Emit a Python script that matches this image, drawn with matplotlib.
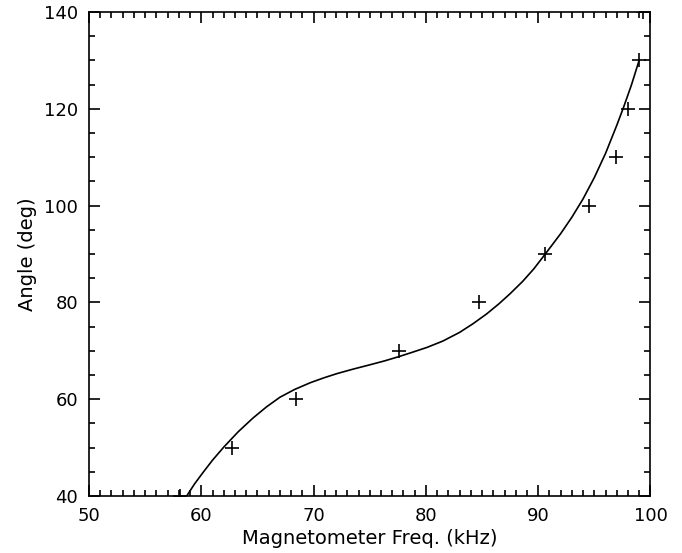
import matplotlib
matplotlib.use('Agg')
import matplotlib.pyplot as plt
from matplotlib.ticker import MultipleLocator

freq = [58.1, 62.7, 68.4, 77.6, 84.7, 90.6, 94.5, 96.9, 98.0, 99.0, 99.3]
angle = [40, 50, 60, 70, 80, 90, 100, 110, 120, 130, 140]

# fitted curve
fit_x = [58.7, 59.4, 60.2, 61.0, 62.0, 63.3, 64.6, 65.8, 67.0, 68.3, 69.7,
         70.9, 72.1, 73.5, 75.0, 76.3, 77.6, 78.8, 80.1, 81.5, 83.0, 84.2,
         85.4, 86.5, 87.5, 88.6, 89.6, 90.5, 91.35, 92.0, 93.0, 94.0, 95.0,
         96.0, 97.0, 97.6, 98.3, 99.0]
fit_y = [40.0, 42.5, 45.0, 47.4, 50.1, 53.3, 56.1, 58.4, 60.4, 62.0, 63.4,
         64.4, 65.3, 66.2, 67.1, 67.9, 68.8, 69.7, 70.7, 72.0, 73.8, 75.6,
         77.6, 79.7, 81.8, 84.3, 86.9, 89.6, 92.2, 94.2, 97.6, 101.4, 105.8,
         110.8, 116.6, 120.3, 124.9, 130.1]

plt.rcParams['font.family'] = 'DejaVu Sans'
fig = plt.figure(figsize=(6.82, 5.53), dpi=100)
ax = fig.add_axes([0.1305, 0.1031, 0.8233, 0.8752])

ax.plot(fit_x, fit_y, color='black', lw=1.2)
ax.plot(freq, angle, linestyle='none', marker='+', color='black', ms=10, mew=1.2)

ax.set_xlim(50, 100)
ax.set_ylim(40, 140)
ax.xaxis.set_major_locator(MultipleLocator(10))
ax.xaxis.set_minor_locator(MultipleLocator(1))
ax.yaxis.set_major_locator(MultipleLocator(20))
ax.yaxis.set_minor_locator(MultipleLocator(5))
ax.tick_params(which='both', direction='in', top=True, right=True, width=1.2,
               labelsize=13, pad=8)
ax.tick_params(which='major', length=8)
ax.tick_params(which='minor', length=4)
for s in ax.spines.values():
    s.set_linewidth(1.2)

ax.set_xlabel('Magnetometer Freq. (kHz)', fontsize=14, labelpad=3)
ax.set_ylabel('Angle (deg)', fontsize=14, labelpad=5)

fig.savefig('out.png', dpi=100)
